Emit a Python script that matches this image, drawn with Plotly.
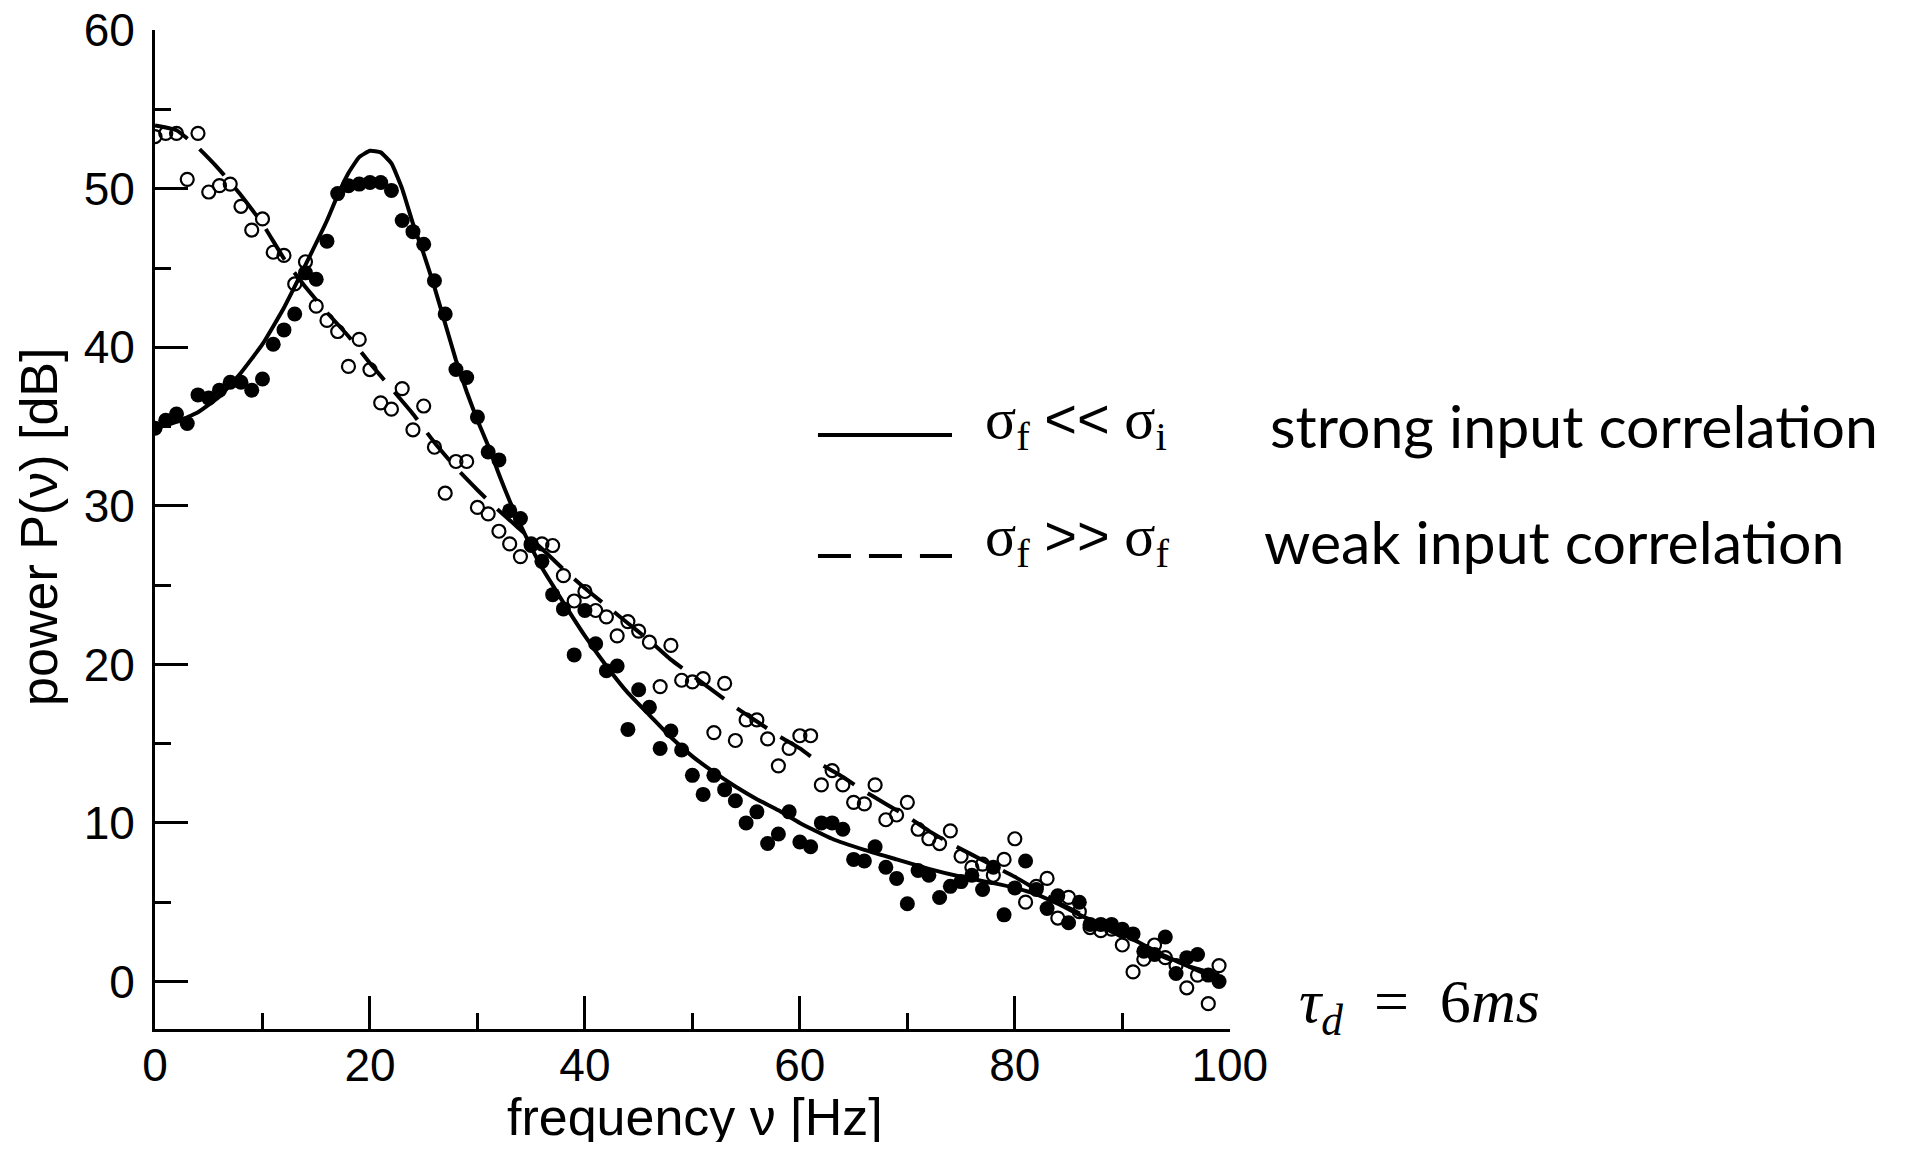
import plotly.graph_objects as go

# ---------------- data ----------------
freq = [0, 1, 2, 3, 4, 5, 6, 7, 8, 9, 10, 11, 12, 13, 14, 15, 16, 17, 18, 19,
        20, 21, 22, 23, 24, 25, 26, 27, 28, 29, 30, 31, 32, 33, 34, 35, 36, 37, 38, 39,
        40, 41, 42, 43, 44, 45, 46, 47, 48, 49, 50, 51, 52, 53, 54, 55, 56, 57, 58, 59,
        60, 61, 62, 63, 64, 65, 66, 67, 68, 69, 70, 71, 72, 73, 74, 75, 76, 77, 78, 79,
        80, 81, 82, 83, 84, 85, 86, 87, 88, 89, 90, 91, 92, 93, 94, 95, 96, 97, 98, 99]

power_strong = [34.9, 35.4, 35.8, 35.2, 37.0, 36.8, 37.3, 37.8, 37.8, 37.3,
                38.0, 40.2, 41.1, 42.1, 44.7, 44.3, 46.7, 49.7, 50.2, 50.3,
                50.4, 50.4, 49.9, 48.0, 47.3, 46.5, 44.2, 42.1, 38.6, 38.1,
                35.6, 33.4, 32.9, 29.7, 29.2, 27.5, 26.5, 24.4, 23.5, 20.6,
                23.4, 21.3, 19.6, 19.9, 15.9, 18.4, 17.3, 14.7, 15.8, 14.6,
                13.0, 11.8, 13.0, 12.1, 11.4, 10.0, 10.7, 8.7, 9.3, 10.7,
                8.8, 8.5, 10.0, 10.0, 9.6, 7.7, 7.6, 8.5, 7.2, 6.5,
                4.9, 7.0, 6.7, 5.3, 6.0, 6.3, 6.7, 5.8, 7.2, 4.2,
                5.9, 7.6, 5.8, 4.6, 5.4, 3.7, 5.0, 3.6, 3.6, 3.6,
                3.3, 3.0, 1.9, 1.7, 2.8, 0.5, 1.5, 1.7, 0.4, 0.0]

power_weak = [53.3, 53.5, 53.5, 50.6, 53.5, 49.8, 50.2, 50.3, 48.9, 47.4,
              48.1, 46.0, 45.8, 44.0, 45.4, 42.6, 41.7, 41.0, 38.8, 40.5,
              38.6, 36.5, 36.1, 37.4, 34.8, 36.3, 33.7, 30.8, 32.8, 32.8,
              29.9, 29.5, 28.4, 27.6, 26.8, 27.6, 27.6, 27.5, 25.6, 24.0,
              24.6, 23.4, 23.0, 21.8, 22.7, 22.1, 21.4, 18.6, 21.2, 19.0,
              18.9, 19.1, 15.7, 18.8, 15.2, 16.5, 16.5, 15.3, 13.6, 14.7,
              15.5, 15.5, 12.4, 13.3, 12.4, 11.3, 11.2, 12.4, 10.2, 10.5,
              11.3, 9.6, 9.0, 8.7, 9.5, 7.9, 7.2, 7.4, 6.7, 7.7,
              9.0, 5.0, 6.0, 6.5, 4.0, 5.3, 4.4, 3.4, 3.2, 3.3,
              2.3, 0.6, 1.4, 2.3, 1.5, 1.0, -0.4, 0.4, -1.4, 1.0]

fit_freq_strong = [0, 2, 4, 6, 8, 10, 12, 14, 16, 17, 18, 19, 20, 21, 22, 23, 24, 25,
                   26, 27, 28, 29, 30, 31, 32, 33, 34, 35, 36, 37, 38, 40, 42, 44, 46,
                   48, 50, 52, 54, 56, 58, 60, 63, 66, 69, 72, 75, 78, 80, 82, 84, 86,
                   88, 90, 92, 94, 96, 98, 99]
fit_power_strong = [34.9, 35.3, 35.9, 36.9, 38.4, 40.2, 42.5, 45.2, 48.0, 49.6, 51.0,
                    52.0, 52.4, 52.3, 51.6, 50.0, 47.8, 45.9, 43.8, 41.5, 39.2, 37.2,
                    35.4, 33.8, 32.0, 30.3, 28.8, 27.4, 26.1, 25.0, 23.9, 21.8, 19.9,
                    18.2, 16.8, 15.4, 14.2, 13.2, 12.3, 11.5, 10.8, 10.0, 9.0, 8.3,
                    7.7, 7.1, 6.6, 6.2, 5.9, 5.5, 4.9, 4.2, 3.6, 3.0, 2.3, 1.6, 1.0,
                    0.4, 0.1]

fit_freq_weak = [0, 2, 4, 6, 8, 10, 12, 14, 16, 18, 20, 22, 24, 26, 28, 30, 32, 34,
                 36, 38, 40, 42, 44, 46, 48, 50, 52, 54, 56, 58, 60, 62, 64, 66, 68,
                 70, 72, 74, 76, 78, 80, 82, 84, 86, 88, 90, 92, 94, 96, 98, 99]
fit_power_weak = [54.0, 53.7, 52.6, 51.2, 49.6, 47.8, 45.6, 43.8, 42.2, 40.7, 39.0,
                  37.4, 35.8, 34.0, 32.4, 31.0, 29.7, 28.5, 27.3, 26.0, 24.8, 23.7,
                  22.6, 21.5, 20.3, 19.3, 18.3, 17.3, 16.4, 15.5, 14.7, 13.7, 12.9,
                  12.0, 11.2, 10.4, 9.5, 8.7, 8.0, 7.3, 6.6, 5.8, 5.0, 4.3, 3.5,
                  2.8, 2.1, 1.5, 1.0, 0.6, 0.4]

x_ticks = [0, 20, 40, 60, 80, 100]
y_ticks = [0, 10, 20, 30, 40, 50, 60]

# ---------------- figure ----------------
fig = go.Figure()

fig.add_trace(go.Scatter(x=fit_freq_strong, y=fit_power_strong, mode="lines",
                         line=dict(color="black", width=4, shape="spline", smoothing=0.4),
                         showlegend=False, hoverinfo="skip"))
fig.add_trace(go.Scatter(x=fit_freq_weak, y=fit_power_weak, mode="lines",
                         line=dict(color="black", width=4, dash="36px,16px",
                                   shape="spline", smoothing=0.4),
                         showlegend=False, hoverinfo="skip"))
fig.add_trace(go.Scatter(x=freq, y=power_strong, mode="markers",
                         marker=dict(symbol="circle", size=15, color="black",
                                     line=dict(width=0)),
                         showlegend=False))
fig.add_trace(go.Scatter(x=freq, y=power_weak, mode="markers",
                         marker=dict(symbol="circle-open", size=13, color="black",
                                     line=dict(width=2.2, color="black")),
                         showlegend=False))

tick_font = dict(family="Liberation Sans, Arial, sans-serif", size=46, color="black")

fig.update_xaxes(range=[0, 100.02], tickvals=x_ticks, ticktext=[str(v) for v in x_ticks],
                 ticks="inside", ticklen=33, tickwidth=2.5, tickcolor="black",
                 minor=dict(dtick=10, ticks="inside", ticklen=16, tickwidth=2.5, tickcolor="black"),
                 showline=True, linewidth=3, linecolor="black", mirror=False,
                 showgrid=False, zeroline=False, tickfont=tick_font,
                 ticklabelstandoff=-6, automargin=False, ticklabeloverflow="allow")
fig.update_yaxes(range=[-3, 60.02], tickvals=y_ticks, ticktext=[str(v) for v in y_ticks],
                 ticks="inside", ticklen=33, tickwidth=2.5, tickcolor="black",
                 minor=dict(dtick=5, ticks="inside", ticklen=16, tickwidth=2.5, tickcolor="black"),
                 showline=True, linewidth=3, linecolor="black", mirror=False,
                 showgrid=False, zeroline=False, tickfont=tick_font,
                 ticklabelstandoff=8, automargin=False, ticklabeloverflow="allow")

title_font = dict(family="Liberation Sans, Arial, sans-serif", size=52, color="black")
serif = "Liberation Serif, Times New Roman, serif"
gill = "Lato, sans-serif"
sig_font = dict(family=serif, size=58, color="black")
chev = "<span style='font-family:Liberation Sans;font-size:56px'>{}</span>"

annotations = [
    dict(text="frequency ν [Hz]", x=0.502, y=-0.088, xref="paper", yref="paper",
         xanchor="center", yanchor="middle", showarrow=False, font=title_font),
    dict(text="power P(ν) [dB]", x=-0.108, y=0.5025, xref="paper", yref="paper",
         xanchor="center", yanchor="middle", textangle=-90, showarrow=False, font=title_font),
    dict(text="σ<sub>f</sub> " + chev.format("&lt;&lt;") + " σ<sub>i</sub>",
         x=0.770, y=0.607, xref="paper",
         yref="paper", xanchor="left", yanchor="middle", showarrow=False, font=sig_font),
    dict(text="σ<sub>f</sub> " + chev.format("&gt;&gt;") + " σ<sub>f</sub>",
         x=0.770, y=0.490, xref="paper",
         yref="paper", xanchor="left", yanchor="middle", showarrow=False, font=sig_font),
    dict(text="strong input correlation", x=1.035, y=0.604, xref="paper", yref="paper",
         xanchor="left", yanchor="middle", showarrow=False,
         font=dict(family=gill, size=59, color="black")),
    dict(text="weak input correlation", x=1.030, y=0.488, xref="paper", yref="paper",
         xanchor="left", yanchor="middle", showarrow=False,
         font=dict(family=gill, size=59, color="black")),
    dict(text="<i>τ</i><sub><i>d</i></sub>  =  6<i>ms</i>", x=1.062, y=0.024, xref="paper",
         yref="paper", xanchor="left", yanchor="middle", showarrow=False,
         font=dict(family=serif, size=62, color="black")),
]

shapes = [
    dict(type="line", xref="paper", yref="paper", x0=0.6167, x1=0.7414, y0=0.5946, y1=0.5946,
         line=dict(color="black", width=4)),
    dict(type="line", xref="paper", yref="paper", x0=0.6167, x1=0.7414, y0=0.4735, y1=0.4735,
         line=dict(color="black", width=4, dash="33px,18px")),
]

# the page body adds an 8px offset, so the figure is 16px smaller than the window
fig.update_layout(
    width=1890, height=1134,
    margin=dict(l=147, r=668, t=22, b=113, pad=0, autoexpand=False),
    paper_bgcolor="white", plot_bgcolor="white",
    showlegend=False,
    annotations=annotations, shapes=shapes,
)

fig.write_html("out.html")
